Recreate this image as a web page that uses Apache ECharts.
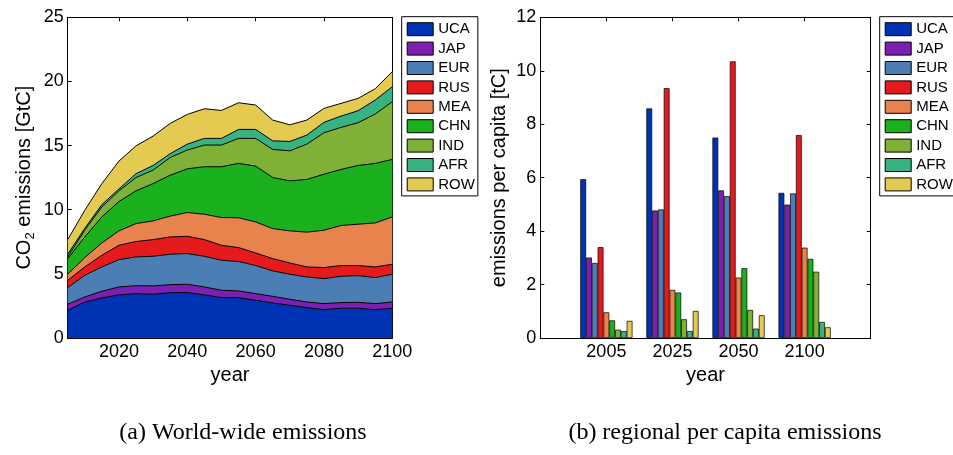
<!DOCTYPE html>
<html><head><meta charset="utf-8">
<script src="https://cdn.jsdelivr.net/npm/echarts@6/dist/echarts.min.js"></script>
<style>html,body{margin:0;padding:0;background:#fff}#c{width:953px;height:455px}</style>
</head><body><div id="c"></div>
<script>
const regions = ['UCA','JAP','EUR','RUS','MEA','CHN','IND','AFR','ROW'];
const colors = ['#0033b3','#7d1fb0','#4a7eb4','#e41a1c','#e8834e','#1bb01e','#80b137','#37b281','#e4ca50'];

const years = ['2005','2010','2015','2020','2025','2030','2035','2040','2045','2050','2055','2060','2065','2070','2075','2080','2085','2090','2095','2100'];
const yearTicks = ['2020','2040','2060','2080','2100'];

const emUCA = [2.16, 2.81, 3.12, 3.36, 3.46, 3.41, 3.54, 3.54, 3.36, 3.15, 3.15, 2.94, 2.73, 2.55, 2.37, 2.21, 2.32, 2.32, 2.21, 2.32];
const emJAP = [0.47, 0.39, 0.52, 0.62, 0.62, 0.65, 0.62, 0.65, 0.62, 0.57, 0.52, 0.52, 0.52, 0.47, 0.44, 0.47, 0.44, 0.46, 0.47, 0.49];
const emEUR = [1.30, 1.69, 1.90, 2.13, 2.24, 2.31, 2.37, 2.39, 2.39, 2.34, 2.29, 2.19, 1.98, 1.95, 1.95, 1.95, 2.05, 2.08, 2.03, 2.16];
const emRUS = [0.57, 0.65, 0.91, 1.12, 1.20, 1.30, 1.35, 1.35, 1.30, 1.17, 1.09, 0.98, 0.96, 0.88, 0.78, 0.86, 0.84, 0.79, 0.83, 0.78];
const emMEA = [0.47, 0.73, 0.96, 1.12, 1.40, 1.46, 1.62, 1.85, 1.98, 2.16, 2.32, 2.42, 2.34, 2.50, 2.71, 2.91, 3.12, 3.22, 3.43, 3.69];
const emCHN = [1.22, 1.61, 2.03, 2.29, 2.55, 2.91, 3.19, 3.41, 3.70, 3.96, 4.24, 4.35, 3.98, 3.90, 4.11, 4.37, 4.37, 4.58, 4.64, 4.48];
const emIND = [0.13, 0.52, 0.78, 0.83, 1.04, 1.05, 1.38, 1.46, 1.69, 1.69, 1.95, 2.16, 2.19, 2.34, 2.75, 3.23, 3.28, 3.33, 3.85, 4.50];
const emAFR = [0.21, 0.15, 0.18, 0.15, 0.30, 0.36, 0.30, 0.46, 0.52, 0.52, 0.70, 0.70, 0.67, 0.73, 0.71, 0.81, 0.88, 0.94, 1.09, 1.17];
const emROW = [1.14, 1.41, 1.64, 2.17, 2.17, 2.29, 2.36, 2.32, 2.31, 2.18, 2.08, 1.90, 1.62, 1.30, 1.17, 1.09, 0.99, 0.96, 0.88, 1.17];

const barYears = ['2005','2025','2050','2100'];
const pcUCA = [5.94, 8.59, 7.50, 5.43];
const pcJAP = [3.01, 4.77, 5.52, 4.99];
const pcEUR = [2.81, 4.81, 5.31, 5.41];
const pcRUS = [3.40, 9.35, 10.35, 7.59];
const pcMEA = [0.96, 1.80, 2.26, 3.38];
const pcCHN = [0.66, 1.70, 2.61, 2.96];
const pcIND = [0.31, 0.70, 1.05, 2.48];
const pcAFR = [0.26, 0.26, 0.35, 0.60];
const pcROW = [0.64, 1.01, 0.85, 0.40];

const emissions = [emUCA, emJAP, emEUR, emRUS, emMEA, emCHN, emIND, emAFR, emROW];
const perCapita = [pcUCA, pcJAP, pcEUR, pcRUS, pcMEA, pcCHN, pcIND, pcAFR, pcROW];

const SANS = "'Liberation Sans', Arial, Helvetica, sans-serif";
const SERIF = "'Liberation Serif', 'Times New Roman', serif";

const chart = echarts.init(document.getElementById('c'), null, {renderer: 'canvas'});

const tickFn = (i, v) => yearTicks.indexOf(v) >= 0;
const axisLine = {show: true, onZero: false, lineStyle: {color: '#000', width: 1}};
const tick = (interval) => ({show: true, inside: true, length: 4, interval: interval, lineStyle: {color: '#000', width: 1}});
const lbl = {color: '#000', fontSize: 18, fontFamily: SANS};
const nameStyle = {color: '#000', fontSize: 20, fontFamily: SANS};

const barCats = [''].concat(barYears).concat(['']);

const legendBase = {
  orient: 'vertical', top: 16.7, icon: 'rect', itemWidth: 26, itemHeight: 13, itemGap: 4.4,
  padding: [5, 3, 4, 5], borderColor: '#000', borderWidth: 1, backgroundColor: '#fff',
  selectedMode: false, itemStyle: {borderColor: '#000', borderWidth: 1},
  textStyle: {color: '#000', fontSize: 15, fontFamily: SANS, lineHeight: 13},
  data: regions.map((r, i) => ({name: r, itemStyle: {color: colors[i]}}))
};

const series = [];
regions.forEach((r, i) => {
  series.push({
    type: 'line', name: r, xAxisIndex: 0, yAxisIndex: 0, stack: 'em',
    data: emissions[i], symbol: 'none', showSymbol: false, silent: true, z: 20 - i,
    lineStyle: {color: '#000', width: 1}, itemStyle: {color: colors[i]},
    areaStyle: {color: colors[i], opacity: 1}, emphasis: {disabled: true}
  });
});
regions.forEach((r, i) => {
  series.push({
    type: 'bar', name: r, xAxisIndex: 2, yAxisIndex: 2,
    data: ['-'].concat(perCapita[i]).concat(['-']),
    barGap: '0%', barCategoryGap: '21%', silent: true,
    itemStyle: {color: colors[i], borderColor: '#000', borderWidth: 0.7},
    emphasis: {disabled: true}
  });
});

chart.setOption({
  animation: false,
  backgroundColor: '#fff',
  grid: [
    {left: 67.7, top: 17.3, width: 324.6, height: 320.7},
    {left: 540.3, top: 17.3, width: 330.4, height: 320.7}
  ],
  xAxis: [
    {gridIndex: 0, type: 'category', data: years, boundaryGap: false, position: 'bottom',
     axisLine: axisLine, axisTick: tick(tickFn), axisLabel: Object.assign({interval: tickFn, margin: 5}, lbl),
     splitLine: {show: false}, name: 'year', nameLocation: 'middle', nameGap: 21, nameTextStyle: nameStyle},
    {gridIndex: 0, type: 'category', data: years, boundaryGap: false, position: 'top',
     axisLine: axisLine, axisTick: tick(tickFn), axisLabel: {show: false}, splitLine: {show: false}},
    {gridIndex: 1, type: 'category', data: barCats, boundaryGap: false, position: 'bottom',
     axisLine: axisLine, axisTick: tick(0), axisLabel: Object.assign({interval: 0, margin: 5}, lbl),
     splitLine: {show: false}, name: 'year', nameLocation: 'middle', nameGap: 21, nameTextStyle: nameStyle},
    {gridIndex: 1, type: 'category', data: barCats, boundaryGap: false, position: 'top',
     axisLine: axisLine, axisTick: tick(0), axisLabel: {show: false}, splitLine: {show: false}}
  ],
  yAxis: [
    {gridIndex: 0, type: 'value', min: 0, max: 25, interval: 5, position: 'left',
     axisLine: axisLine, axisTick: tick('auto'), axisLabel: Object.assign({margin: 4}, lbl), splitLine: {show: false},
     name: '{a|CO}{s|2}{a| emissions [GtC]}', nameLocation: 'middle', nameGap: 31,
     nameTextStyle: {color: '#000', fontFamily: SANS, rich: {
       a: {fontSize: 20, lineHeight: 24, fontFamily: SANS, color: '#000'},
       s: {fontSize: 13, lineHeight: 13, verticalAlign: 'bottom', fontFamily: SANS, color: '#000'}}}},
    {gridIndex: 0, type: 'value', min: 0, max: 25, interval: 5, position: 'right',
     axisLine: axisLine, axisTick: tick('auto'), axisLabel: {show: false}, splitLine: {show: false}},
    {gridIndex: 1, type: 'value', min: 0, max: 12, interval: 2, position: 'left',
     axisLine: axisLine, axisTick: tick('auto'), axisLabel: Object.assign({margin: 4}, lbl), splitLine: {show: false},
     name: 'emissions per capita [tC]', nameLocation: 'middle', nameGap: 31, nameTextStyle: nameStyle},
    {gridIndex: 1, type: 'value', min: 0, max: 12, interval: 2, position: 'right',
     axisLine: axisLine, axisTick: tick('auto'), axisLabel: {show: false}, splitLine: {show: false}}
  ],
  legend: [
    Object.assign({left: 401.7}, legendBase),
    Object.assign({left: 879.7}, legendBase)
  ],
  graphic: [
    {type: 'text', x: 243, y: 433, style: {text: '(a) World-wide emissions', fill: '#000',
      font: '24px ' + SERIF, textAlign: 'center', textVerticalAlign: 'middle'}},
    {type: 'text', x: 725, y: 433, style: {text: '(b) regional per capita emissions', fill: '#000',
      font: '24px ' + SERIF, textAlign: 'center', textVerticalAlign: 'middle'}}
  ],
  series: series
});
</script>
</body></html>
